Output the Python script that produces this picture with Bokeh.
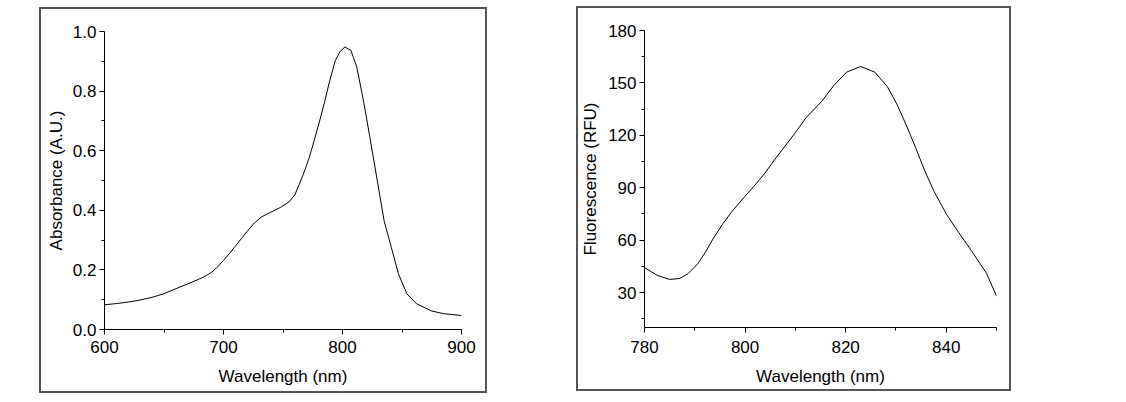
from bokeh.plotting import figure
from bokeh.layouts import row
from bokeh.models import FixedTicker, PrintfTickFormatter
from bokeh.embed import file_html
from bokeh.resources import INLINE

# Absorbance spectrum
abs_wavelength = [600, 610, 620, 630, 640, 650, 660, 670, 680, 686, 690, 695, 700, 705,
                  710, 716, 720, 726, 732, 740, 748, 755, 760, 767, 772, 776, 781, 785,
                  789, 794, 798, 802, 807, 812, 818, 823, 829, 835, 841, 847, 854, 862,
                  875, 885, 900]
absorbance = [0.083, 0.087, 0.092, 0.099, 0.108, 0.120, 0.137, 0.153, 0.170, 0.182, 0.192,
              0.210, 0.232, 0.255, 0.280, 0.310, 0.330, 0.358, 0.378, 0.394, 0.410, 0.428,
              0.452, 0.520, 0.576, 0.631, 0.703, 0.764, 0.831, 0.903, 0.933, 0.948, 0.937,
              0.881, 0.760, 0.645, 0.505, 0.364, 0.276, 0.187, 0.120, 0.087, 0.062, 0.053,
              0.047]

# Fluorescence spectrum
fl_wavelength = [780, 782.5, 785, 787, 788.7, 790.6, 792.1, 793.6, 795.5, 797.3, 799.8,
                 801.7, 803.8, 806, 808.5, 810, 812.1, 815.2, 817.7, 820.2, 823, 825.8,
                 828.3, 830.1, 832, 833.9, 835.7, 837.6, 840.1, 842.5, 845, 848, 850]
fluorescence = [44.3, 39.9, 37.5, 38.1, 40.9, 46.5, 53.1, 60.6, 69.0, 76.1, 84.5, 90.6,
                97.8, 106.5, 115.9, 121.5, 130.0, 139.3, 148.7, 156.2, 159.4, 156.2, 147.8,
                138.4, 126.2, 113.1, 99.9, 87.8, 74.6, 64.3, 54.0, 41.1, 28.0]

abs_xticks = [600, 700, 800, 900]
abs_xminor = [650, 750, 850]
abs_yticks = [0.0, 0.2, 0.4, 0.6, 0.8, 1.0]
abs_yminor = [0.1, 0.3, 0.5, 0.7, 0.9]
fl_xticks = [780, 800, 820, 840]
fl_xminor = [790, 810, 830, 850]
fl_yticks = [30, 60, 90, 120, 150, 180]
fl_yminor = [15, 45, 75, 105, 135, 165]

FONT = "Liberation Sans"
BOX = {"border": "2px solid #555555", "box-sizing": "border-box"}


def style(p, xtick_standoff, xlab_standoff, ylab_standoff):
    p.grid.visible = False
    p.outline_line_color = None
    p.background_fill_color = "white"
    p.border_fill_color = "white"
    for ax in (p.xaxis[0], p.yaxis[0]):
        ax.axis_line_color = "black"
        ax.axis_line_width = 1
        ax.major_tick_line_color = "black"
        ax.minor_tick_line_color = "black"
        ax.major_tick_in = 0
        ax.major_tick_out = 5
        ax.minor_tick_in = 0
        ax.minor_tick_out = 3
        ax.major_label_text_font = FONT
        ax.major_label_text_font_size = "17px"
        ax.major_label_text_color = "black"
        ax.axis_label_text_font = FONT
        ax.axis_label_text_font_size = "17px"
        ax.axis_label_text_font_style = "normal"
        ax.axis_label_text_color = "black"
    p.xaxis[0].major_label_standoff = xtick_standoff
    p.yaxis[0].major_label_standoff = 3
    p.xaxis[0].axis_label_standoff = xlab_standoff
    p.yaxis[0].axis_label_standoff = ylab_standoff


p1 = figure(width=448, height=386, x_range=(600, 900), y_range=(0, 1.0), title=None,
            output_backend="svg", toolbar_location=None,
            min_border_left=63, min_border_right=28, min_border_top=16, min_border_bottom=66,
            x_axis_label="Wavelength (nm)", y_axis_label="Absorbance (A.U.)",
            styles=BOX, margin=(7, 0, 0, 39))
p1.line(abs_wavelength, absorbance, line_color="black", line_width=1)
p1.xaxis[0].ticker = FixedTicker(ticks=abs_xticks, minor_ticks=abs_xminor)
p1.yaxis[0].ticker = FixedTicker(ticks=abs_yticks, minor_ticks=abs_yminor)
p1.yaxis[0].formatter = PrintfTickFormatter(format="%.1f")
style(p1, 6, 11, 4)

p2 = figure(width=435, height=385, x_range=(780, 850), y_range=(10, 180), title=None,
            output_backend="svg", toolbar_location=None,
            min_border_left=61, min_border_right=17, min_border_top=22, min_border_bottom=59,
            x_axis_label="Wavelength (nm)", y_axis_label="Fluorescence (RFU)",
            styles=BOX, margin=(6, 0, 0, 89))
p2.line(fl_wavelength, fluorescence, line_color="black", line_width=1)
p2.xaxis[0].ticker = FixedTicker(ticks=fl_xticks, minor_ticks=fl_xminor)
p2.yaxis[0].ticker = FixedTicker(ticks=fl_yticks, minor_ticks=fl_yminor)
style(p2, 8, 11, 5)

layout = row(p1, p2, spacing=0)
open("out.html", "w").write(file_html(layout, INLINE))
